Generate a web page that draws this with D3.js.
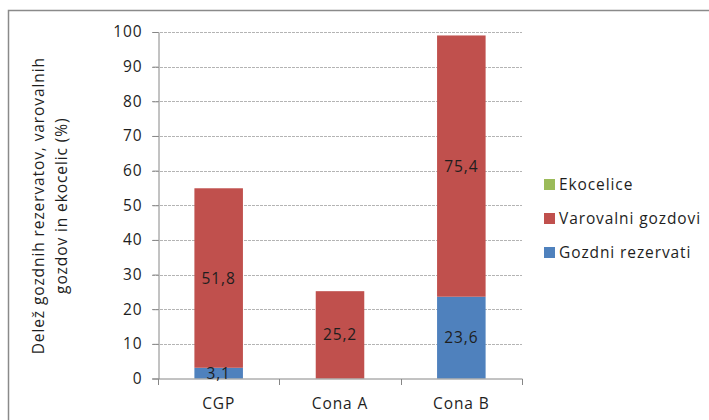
<!DOCTYPE html>
<html>
<head>
<meta charset="utf-8">
<script src="https://cdn.jsdelivr.net/npm/d3@7"></script>
<style>
  html, body { margin: 0; padding: 0; background: #fff; }
  svg { display: block; font-family: "Open Sans", Lato, sans-serif; }
  svg text { letter-spacing: 0.9px; }
</style>
</head>
<body>
<svg id="chart" width="709" height="420"></svg>
<script>
// Categories (zones) and stacked shares in percent
const categories = ["CGP", "Cona A", "Cona B"];
const gozdniRezervati = [3.1, 0, 23.6];
const varovalniGozdovi = [51.8, 25.2, 75.4];
const ekocelice = [0, 0, 0];
const yTicks = [0, 10, 20, 30, 40, 50, 60, 70, 80, 90, 100];

const seriesNames = ["Gozdni rezervati", "Varovalni gozdovi", "Ekocelice"];
const seriesValues = [gozdniRezervati, varovalniGozdovi, ekocelice];
const colors = ["#4F81BD", "#C0504D", "#9BBB59"];

const FONT = "'Open Sans', Lato, sans-serif";
const FS = 15.5;
const TEXT = "#1e1e1e";

const rows = categories.map((c, i) => {
  const r = { cat: c };
  seriesNames.forEach((s, k) => r[s] = seriesValues[k][i]);
  return r;
});

const svg = d3.select("#chart");

// outer frame
svg.append("rect")
  .attr("x", 8.5).attr("y", 10.5)
  .attr("width", 720).attr("height", 430)
  .attr("fill", "none").attr("stroke", "#8a8a8a").attr("stroke-width", 1.5);

const plot = { left: 158, right: 522, top: 32, bottom: 378.5 };

const x = d3.scaleBand().domain(categories)
  .range([plot.left, plot.right]).paddingInner(0.6).paddingOuter(0.3);
const xOuter = d3.scaleBand().domain(categories).range([plot.left, plot.right]);
const y = d3.scaleLinear().domain([0, 100]).range([plot.bottom, plot.top]);

// gridlines (dashed)
svg.append("g")
  .selectAll("line").data(yTicks.filter(t => t > 0)).join("line")
  .attr("x1", plot.left - 6).attr("x2", plot.right)
  .attr("y1", d => Math.round(y(d)) + 0.5).attr("y2", d => Math.round(y(d)) + 0.5)
  .attr("stroke", "#b4b4b4").attr("stroke-width", 1)
  .attr("stroke-dasharray", "3,1");

// stacked bars
const stack = d3.stack().keys(seriesNames);
const stacked = stack(rows);

const layers = svg.append("g").selectAll("g").data(stacked).join("g")
  .attr("fill", (d, i) => colors[i]);

layers.selectAll("rect").data(d => d).join("rect")
  .attr("x", d => x(d.data.cat))
  .attr("width", x.bandwidth())
  .attr("y", d => y(d[1]))
  .attr("height", d => y(d[0]) - y(d[1]));

// y axis
const yAxis = svg.append("g")
  .attr("transform", `translate(${plot.left + 0.5},0)`)
  .call(d3.axisLeft(y).tickValues(yTicks).tickSize(6).tickPadding(10).tickSizeOuter(0));
yAxis.select(".domain").attr("stroke", "#868686");
yAxis.selectAll(".tick line").attr("stroke", "#868686");
yAxis.selectAll(".tick text")
  .attr("font-family", FONT).attr("font-size", FS).attr("fill", TEXT);

// x axis with ticks at band boundaries
const xAxisG = svg.append("g").attr("transform", `translate(0,${plot.bottom + 0.5})`);
xAxisG.append("line")
  .attr("x1", plot.left - 6).attr("x2", plot.right + 0.5)
  .attr("stroke", "#868686");
const bounds = categories.map(c => xOuter(c)).concat([plot.right]);
xAxisG.selectAll("line.tk").data(bounds).join("line").attr("class", "tk")
  .attr("x1", d => Math.round(d) + 0.5).attr("x2", d => Math.round(d) + 0.5)
  .attr("y1", 0).attr("y2", 6).attr("stroke", "#868686");
xAxisG.selectAll("text").data(categories).join("text")
  .attr("x", d => xOuter(d) + xOuter.bandwidth() / 2)
  .attr("y", 30)
  .attr("text-anchor", "middle")
  .attr("font-size", FS).attr("fill", TEXT)
  .text(d => d);

// value labels centred in each non-empty segment
stacked.forEach((layer, k) => {
  svg.append("g").selectAll("text").data(layer.filter(d => d[1] - d[0] > 0)).join("text")
    .attr("x", d => x(d.data.cat) + x.bandwidth() / 2)
    .attr("y", d => y((d[0] + d[1]) / 2))
    .attr("dy", "0.36em")
    .attr("text-anchor", "middle")
    .attr("font-size", FS).attr("fill", TEXT)
    .text(d => d3.format(".1f")(d[1] - d[0]).replace(".", ","));
});

// y axis title (two lines, rotated)
const titleLines = ["Delež gozdnih rezervatov, varovalnih", "gozdov in ekocelic (%)"];
svg.append("g").selectAll("text").data(titleLines).join("text")
  .attr("transform", (d, i) => `translate(${44 + i * 22.5},${(plot.top + plot.bottom) / 2 + 0.5}) rotate(-90)`)
  .attr("text-anchor", "middle")
  .attr("font-size", FS).attr("fill", TEXT)
  .text(d => d);

// legend (reverse stack order)
const legendItems = seriesNames.map((s, i) => ({ name: s, color: colors[i] })).reverse();
const legend = svg.append("g").selectAll("g").data(legendItems).join("g")
  .attr("transform", (d, i) => `translate(544,${184 + i * 34})`);
legend.append("rect")
  .attr("x", 0).attr("y", -5).attr("width", 11).attr("height", 11)
  .attr("fill", d => d.color);
legend.append("text")
  .attr("x", 15).attr("y", 0).attr("dy", "0.36em")
  .attr("font-size", FS).attr("fill", TEXT)
  .text(d => d.name);
</script>
</body>
</html>
